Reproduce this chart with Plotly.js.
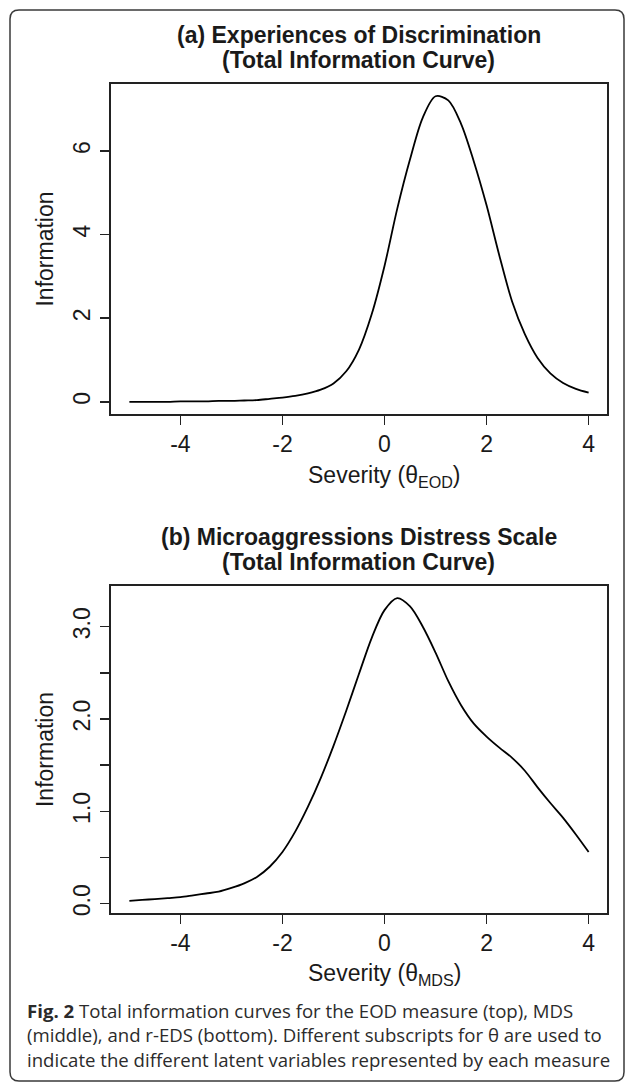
<!DOCTYPE html>
<html>
<head>
<meta charset="utf-8">
<script src="https://cdn.plot.ly/plotly-3.0.1.min.js"></script>
<style>
  html, body { margin: 0; padding: 0; background: #ffffff; }
  #chart { width: 627px; height: 1084px; }
</style>
</head>
<body>
<div id="chart"></div>
<script>
// ---- Data ----
const theta = [-5.00, -4.75, -4.50, -4.25, -4.00, -3.75, -3.50, -3.25, -3.00, -2.75,
               -2.50, -2.25, -2.00, -1.75, -1.50, -1.25, -1.00, -0.75, -0.50, -0.25,
                0.00,  0.25,  0.50,  0.75,  1.00,  1.25,  1.50,  1.75,  2.00,  2.25,
                2.50,  2.75,  3.00,  3.25,  3.50,  3.75,  4.00];

// (a) Experiences of Discrimination - total information
const infoEOD = [0.00, 0.00, 0.00, 0.00, 0.01, 0.01, 0.01, 0.02, 0.02, 0.03,
                 0.04, 0.07, 0.10, 0.14, 0.20, 0.29, 0.44, 0.73, 1.25, 2.10,
                 3.25, 4.62, 5.80, 6.80, 7.31, 7.21, 6.65, 5.75, 4.70, 3.50,
                 2.40, 1.62, 1.05, 0.68, 0.45, 0.31, 0.22];

// (b) Microaggressions Distress Scale - total information
const infoMDS = [0.03, 0.04, 0.05, 0.06, 0.07, 0.09, 0.11, 0.13, 0.17, 0.22,
                 0.29, 0.40, 0.56, 0.78, 1.05, 1.36, 1.71, 2.09, 2.49, 2.88,
                 3.18, 3.31, 3.22, 3.00, 2.72, 2.41, 2.15, 1.95, 1.81, 1.69,
                 1.58, 1.44, 1.26, 1.09, 0.93, 0.75, 0.56];

const xTickVals = [-4, -2, 0, 2, 4];
const xTickText = ["-4", "-2", "0", "2", "4"];
const yTickValsA = [0, 2, 4, 6];
const yTickTextA = ["0", "2", "4", "6"];
const yTickValsB = [0, 1, 2, 3];
const yTickTextB = ["0.0", "1.0", "2.0", "3.0"];
const yMinorValsB = [0.5, 1.5, 2.5];

const titleA = ["(a) Experiences of Discrimination", "(Total Information Curve)"];
const titleB = ["(b) Microaggressions Distress Scale", "(Total Information Curve)"];
const xTitleA = "Severity (θ<sub>EOD</sub>)";
const xTitleB = "Severity (θ<sub>MDS</sub>)";
const yTitle = "Information";
const captionLines = [
  "<b>Fig. 2</b> Total information curves for the EOD measure (top), MDS",
  "(middle), and r-EDS (bottom). Different subscripts for θ are used to",
  "indicate the different latent variables represented by each measure"
];

// ---- Layout helpers ----
const W = 627, H = 1084;
const px = v => v / W;            // pixel x -> paper x
const py = v => 1 - v / H;        // pixel y (from top) -> paper y

// R-style range: data range extended by 4% on each side
function rRange(arr) {
  const lo = Math.min(...arr), hi = Math.max(...arr);
  const d = (hi - lo) * 0.04;
  return [lo - d, hi + d];
}

const boxA = {l: 111, r: 607, t: 84, b: 414};
const boxB = {l: 111, r: 607, t: 586, b: 913};

const ink = "#1a1a1a";
const fontAxis = {family: "Liberation Sans, Arial, sans-serif", size: 23, color: ink};
const fontTitle = {family: "Liberation Sans, Arial, sans-serif", size: 23, color: ink};

const tickStyle = {ticks: "outside", ticklen: 9, tickwidth: 1.5, tickcolor: "#222"};

function xAxis(box, anchor) {
  return Object.assign({
    domain: [px(box.l), px(box.r)],
    anchor: anchor,
    range: rRange(theta),
    tickmode: "array", tickvals: xTickVals, ticktext: xTickText,
    showline: true, linecolor: "#222", linewidth: 2, mirror: true,
    showgrid: false, zeroline: false,
    tickfont: fontAxis,
    ticklabelstandoff: -1
  }, tickStyle);
}
function yAxis(box, anchor, vals, text, dataArr, minorVals) {
  const ax = Object.assign({
    domain: [py(box.b), py(box.t)],
    anchor: anchor,
    range: rRange(dataArr),
    tickmode: "array", tickvals: vals, ticktext: text,
    tickangle: -90,
    showline: true, linecolor: "#222", linewidth: 2, mirror: true,
    showgrid: false, zeroline: false,
    tickfont: fontAxis,
    ticklabelstandoff: 1,
    title: {text: yTitle, font: fontAxis, standoff: 9}
  }, tickStyle);
  if (minorVals) {
    ax.minor = {tickmode: "array", tickvals: minorVals, ticks: "outside",
                ticklen: 9, tickwidth: 1.5, tickcolor: "#222", showgrid: false};
  }
  return ax;
}

const traces = [
  {x: theta, y: infoEOD, xaxis: "x", yaxis: "y", type: "scatter", mode: "lines",
   line: {color: "#000", width: 1.8, shape: "spline", smoothing: 0.9}, hoverinfo: "skip"},
  {x: theta, y: infoMDS, xaxis: "x2", yaxis: "y2", type: "scatter", mode: "lines",
   line: {color: "#000", width: 1.8, shape: "spline", smoothing: 0.9}, hoverinfo: "skip"}
];

const annotations = [];
function addTitle(lines, box) {
  const cx = (box.l + box.r) / 2;
  [box.t - 49, box.t - 24].forEach((yy, i) => {
    annotations.push({xref: "paper", yref: "paper", x: px(cx), y: py(yy),
      xanchor: "center", yanchor: "middle", showarrow: false,
      text: "<b>" + lines[i] + "</b>", font: fontTitle});
  });
}
addTitle(titleA, boxA);
addTitle(titleB, boxB);

// x-axis titles (centred over the 0 tick, as in the reference)
annotations.push({xref: "x", yref: "paper", x: 0, y: py(boxA.b + 62),
  xanchor: "center", yanchor: "middle", showarrow: false, text: xTitleA, font: fontAxis});
annotations.push({xref: "x2", yref: "paper", x: 0, y: py(boxB.b + 61),
  xanchor: "center", yanchor: "middle", showarrow: false, text: xTitleB, font: fontAxis});

captionLines.forEach((t, i) => {
  annotations.push({xref: "paper", yref: "paper", x: px(25), y: py(1010 + 24.5 * i),
    xanchor: "left", yanchor: "middle", showarrow: false, align: "left",
    text: t, font: {family: "Open Sans, Noto Sans, sans-serif", size: 18.6, color: "#2b2b2b"}});
});

// rounded outer frame
const fl = 10, ft = 10, fr = 624, fb = 1081, rr = 9;
const framePath =
  "M " + px(fl) + "," + py(ft + rr) +
  " Q " + px(fl) + "," + py(ft) + " " + px(fl + rr) + "," + py(ft) +
  " L " + px(fr - rr) + "," + py(ft) +
  " Q " + px(fr) + "," + py(ft) + " " + px(fr) + "," + py(ft + rr) +
  " L " + px(fr) + "," + py(fb - rr) +
  " Q " + px(fr) + "," + py(fb) + " " + px(fr - rr) + "," + py(fb) +
  " L " + px(fl + rr) + "," + py(fb) +
  " Q " + px(fl) + "," + py(fb) + " " + px(fl) + "," + py(fb - rr) + " Z";

const layout = {
  width: W, height: H,
  margin: {l: 0, r: 0, t: 0, b: 0},
  paper_bgcolor: "#ffffff", plot_bgcolor: "#ffffff",
  showlegend: false,
  xaxis: xAxis(boxA, "y"),
  yaxis: yAxis(boxA, "x", yTickValsA, yTickTextA, infoEOD, null),
  xaxis2: xAxis(boxB, "y2"),
  yaxis2: yAxis(boxB, "x2", yTickValsB, yTickTextB, infoMDS, yMinorValsB),
  annotations: annotations,
  shapes: [{type: "path", xref: "paper", yref: "paper", path: framePath,
            line: {color: "#3a3a3a", width: 1.5}, fillcolor: "rgba(0,0,0,0)", layer: "below"}]
};

Plotly.newPlot("chart", traces, layout, {staticPlot: true, displayModeBar: false});
</script>
</body>
</html>
